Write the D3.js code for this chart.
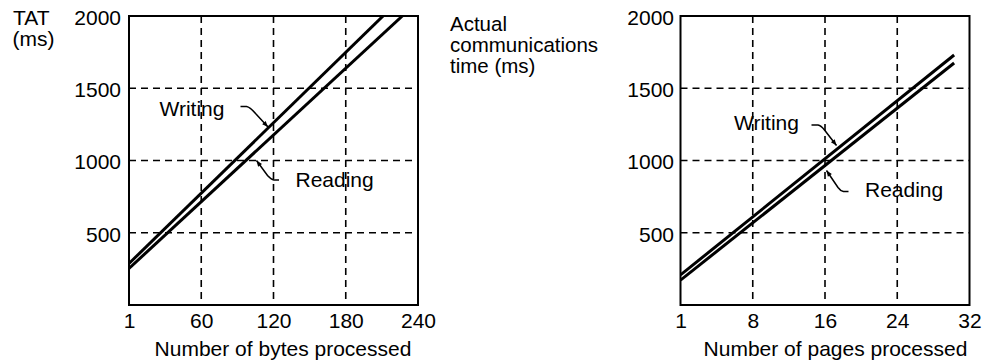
<!DOCTYPE html>
<html><head><meta charset="utf-8">
<script src="https://cdn.jsdelivr.net/npm/d3@7"></script>
<style>
html,body{margin:0;padding:0;background:#fff;}
svg{display:block;font-family:"Liberation Sans",Arial,Helvetica,sans-serif;font-size:21px;}
</style></head>
<body><svg id="c" width="985" height="362"></svg>
<script>
// ---- data ----
const yTicks = [500, 1000, 1500, 2000];
const bytesTicks = [0, 60, 120, 180, 240];
const bytesTickLabels = ["1", "60", "120", "180", "240"];
const pagesTicks = [0, 8, 16, 24, 32];
const pagesTickLabels = ["1", "8", "16", "24", "32"];
const writingBytes = [{x: 0, y: 287}, {x: 211, y: 2000}];
const readingBytes = [{x: 0, y: 253}, {x: 227, y: 2000}];
const writingPages = [{x: 0, y: 208}, {x: 30.3, y: 1730}];
const readingPages = [{x: 0, y: 172}, {x: 30.3, y: 1675}];

const svg = d3.select("#c");
const defs = svg.append("defs");
defs.append("marker").attr("id", "ah").attr("viewBox", "0 0 10 10")
  .attr("refX", 10).attr("refY", 5).attr("markerWidth", 7.5).attr("markerHeight", 6)
  .attr("markerUnits", "userSpaceOnUse").attr("orient", "auto")
  .append("path").attr("d", "M0,1 L10,5 L0,9 Z").attr("fill", "#000");

const yTop = 16, yBot = 305;
const y = d3.scaleLinear().domain([0, 2000]).range([yBot, yTop]);

function panel(opt) {
  const x = d3.scaleLinear().domain(opt.domain).range([opt.x0, opt.x1]);
  const g = svg.append("g");
  const clipId = "clip" + opt.id;
  defs.append("clipPath").attr("id", clipId).append("rect")
    .attr("x", opt.x0).attr("y", yTop).attr("width", opt.x1 - opt.x0).attr("height", yBot - yTop);
  // grid
  g.selectAll(".vg").data(opt.ticks.slice(1, -1)).join("line")
    .attr("x1", d => x(d)).attr("x2", d => x(d)).attr("y1", yTop).attr("y2", yBot)
    .attr("stroke", "#000").attr("stroke-width", 1.6).attr("stroke-dasharray", "7,5");
  g.selectAll(".hg").data(yTicks.slice(0, -1)).join("line")
    .attr("x1", opt.x0).attr("x2", opt.x1).attr("y1", d => y(d)).attr("y2", d => y(d))
    .attr("stroke", "#000").attr("stroke-width", 1.6).attr("stroke-dasharray", "7,5");
  // axes
  const xa = g.append("g").attr("transform", `translate(0,${yBot})`)
    .call(d3.axisBottom(x).tickValues(opt.ticks).tickSize(0).tickPadding(8)
      .tickFormat((d, i) => opt.labels[i]));
  const ya = g.append("g").attr("transform", `translate(${opt.x0},0)`)
    .call(d3.axisLeft(y).tickValues(yTicks).tickSize(0).tickPadding(opt.ypad).tickFormat(d3.format("d")));
  [xa, ya].forEach(a => {
    a.select(".domain").remove();
    a.attr("font-size", null).attr("font-family", null);
    a.selectAll("text").attr("fill", "#000");
  });
  ya.selectAll("text").attr("dy", "0.4em");
  // frame
  g.append("rect").attr("x", opt.x0).attr("y", yTop).attr("width", opt.x1 - opt.x0)
    .attr("height", yBot - yTop).attr("fill", "none").attr("stroke", "#000").attr("stroke-width", 2);
  // lines
  const line = d3.line().x(d => x(d.x)).y(d => y(d.y));
  g.append("g").attr("clip-path", `url(#${clipId})`).selectAll("path")
    .data(opt.series).join("path").attr("d", line)
    .attr("fill", "none").attr("stroke", "#000").attr("stroke-width", 3);
  // x title
  g.append("text").attr("x", opt.titleX).attr("y", 356).attr("text-anchor", "middle").text(opt.title);
  // annotations
  opt.notes.forEach(n => {
    g.append("text").attr("x", n.tx).attr("y", n.ty).text(n.text);
    g.append("path").attr("d", n.path).attr("fill", "none").attr("stroke", "#000")
      .attr("stroke-width", 1.5).attr("marker-end", "url(#ah)");
  });
}

panel({
  id: "L", domain: [0, 240], x0: 129, x1: 418, ticks: bytesTicks, labels: bytesTickLabels, ypad: 8,
  series: [writingBytes, readingBytes], title: "Number of bytes processed", titleX: 283,
  notes: [
    {text: "Writing", tx: 159.5, ty: 116, path: "M240.5,106.5 L246.5,106.5 Q250,107 256,114 L268,127"},
    {text: "Reading", tx: 295.5, ty: 187, path: "M279,180 L274,180 Q271,179.5 267.5,175.5 L256.5,160.5"}
  ]
});
panel({
  id: "R", domain: [0, 32], x0: 680.5, x1: 969.5, ticks: pagesTicks, labels: pagesTickLabels, ypad: 6.5,
  series: [writingPages, readingPages], title: "Number of pages processed", titleX: 835.5,
  notes: [
    {text: "Writing", tx: 734, ty: 129.5, path: "M811.5,125 L818,125 Q821,125.5 824.5,130 L836.5,145.5"},
    {text: "Reading", tx: 865, ty: 197, path: "M848.5,191.5 L843.5,191.5 Q840.5,191 838,187.5 L826.5,170.5"}
  ]
});

// y-axis titles
svg.append("text").attr("x", 13).attr("y", 25).text("TAT");
svg.append("text").attr("x", 12.5).attr("y", 46).text("(ms)");
const t2 = svg.append("text").attr("font-size", 20.5);
["Actual", "communications", "time (ms)"].forEach((s, i) =>
  t2.append("tspan").attr("x", 450).attr("y", 31 + i * 21).text(s));
</script></body></html>
